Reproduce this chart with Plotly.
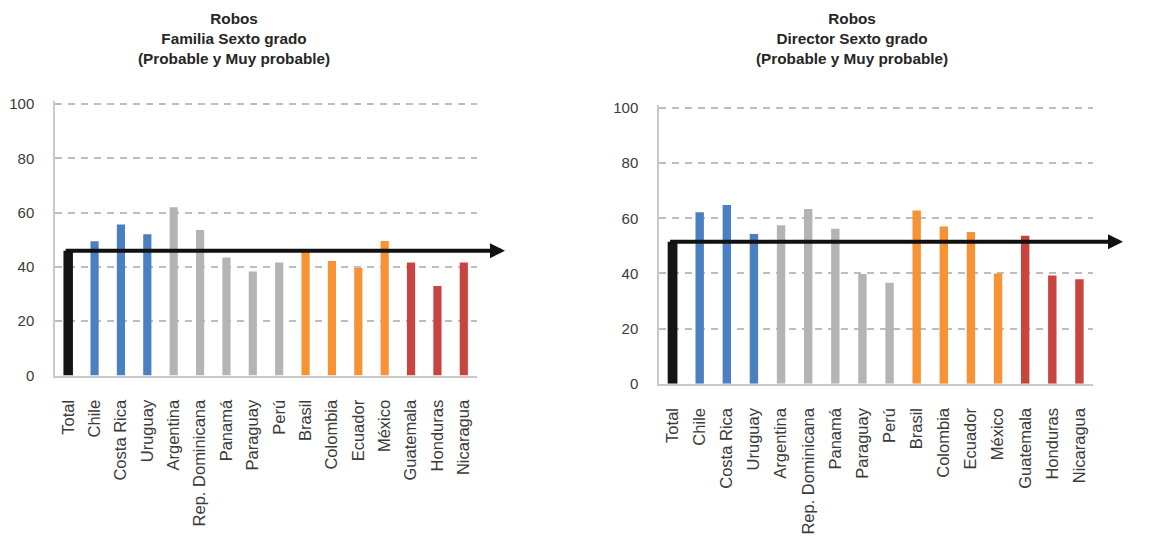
import plotly.graph_objects as go

# Countries in chart order (Total first, then grouped by region colour)
categories = ["Total", "Chile", "Costa Rica", "Uruguay", "Argentina", "Rep. Dominicana",
              "Panamá", "Paraguay", "Perú", "Brasil", "Colombia", "Ecuador", "México",
              "Guatemala", "Honduras", "Nicaragua"]

# Percentage answering "Probable" or "Muy probable"
familia = [46, 49.5, 55.6, 52, 62, 53.6, 43.5, 38.3, 41.6, 46, 42.2, 39.6, 49.6, 41.6, 33, 41.6]
director = [51.5, 62.2, 64.8, 54.3, 57.5, 63.4, 56.2, 39.8, 36.6, 62.8, 57, 55, 40, 53.7, 39.2, 37.9]

groups = ["total", "blue", "blue", "blue", "gray", "gray", "gray", "gray", "gray",
          "orange", "orange", "orange", "orange", "red", "red", "red"]

y_ticks = [0, 20, 40, 60, 80, 100]
Y_MAX = 101  # a little headroom so the 100 gridline is fully visible

palette = {"total": "#141414", "blue": "#4a7fc1", "gray": "#b4b4b4",
           "orange": "#f79334", "red": "#c9443f"}
colors = [palette[g] for g in groups]
widths = [0.36 if g == "total" else 0.31 for g in groups]

W, H = 1176, 542
FONT = "Liberation Sans, Arial, sans-serif"

# plot-area rectangles in pixels: (left, right, y of 100, y of 0), and arrow tip x
panels = [
    dict(vals=familia, title="Robos<br>Familia Sexto grado<br>(Probable y Muy probable)",
         box=(55, 477, 100.7, 379.3), tip=505, tcx=234),
    dict(vals=director, title="Robos<br>Director Sexto grado<br>(Probable y Muy probable)",
         box=(659, 1093, 104.7, 387.7), tip=1123, tcx=852),
]

fig = go.Figure()
annotations = []
layout = {}
for i, p in enumerate(panels):
    n = "" if i == 0 else str(i + 1)
    x0, x1, y100, y0 = p["box"]
    per_unit = (y0 - y100) / 100
    ytop = y0 - Y_MAX * per_unit
    fig.add_trace(go.Bar(x=categories, y=p["vals"], marker_color=colors, width=widths,
                         marker_line_width=0, xaxis="x" + n, yaxis="y" + n,
                         showlegend=False, hoverinfo="x+y"))
    layout["xaxis" + n] = dict(
        domain=[x0 / W, x1 / W], anchor="y" + n, type="category",
        tickangle=-90, showline=True, linecolor="#c9c9c9", linewidth=1.5,
        showgrid=False, ticks="", ticklabelstandoff=16,
        tickfont=dict(family=FONT, size=16.5, color="#3a3a3a"),
    )
    layout["yaxis" + n] = dict(
        domain=[1 - y0 / H, 1 - ytop / H], anchor="x" + n, range=[0, Y_MAX],
        tickvals=y_ticks, showline=True, linecolor="#c9c9c9", linewidth=1.5,
        showgrid=True, gridcolor="#bdbdbd", gridwidth=1.5, griddash="7px,6px",
        zeroline=False, ticks="", ticklabelstandoff=16,
        tickfont=dict(family=FONT, size=15, color="#3a3a3a"),
    )
    # horizontal arrow at the Total level
    band = (x1 - x0) / len(categories)
    total_x = x0 + band / 2
    annotations.append(dict(
        xref="paper", yref="y" + n, x=p["tip"] / W, y=p["vals"][0],
        ax=total_x - p["tip"] - 4, ay=0, axref="pixel", ayref="pixel",
        showarrow=True, arrowhead=2, arrowsize=0.75, arrowwidth=4,
        arrowcolor="#111111", text="", standoff=0,
    ))
    annotations.append(dict(
        xref="paper", yref="paper", x=p["tcx"] / W, y=1 - 2 / H,
        xanchor="center", yanchor="top", showarrow=False, align="center",
        text="<b>" + p["title"].replace("<br>", "</b><br><b>") + "</b>",
        font=dict(family=FONT, size=15.3, color="#262626"),
    ))

fig.update_layout(
    width=W, height=H, margin=dict(l=0, r=0, t=0, b=0),
    paper_bgcolor="white", plot_bgcolor="white",
    annotations=annotations, **layout,
)

fig.write_html("out.html")
